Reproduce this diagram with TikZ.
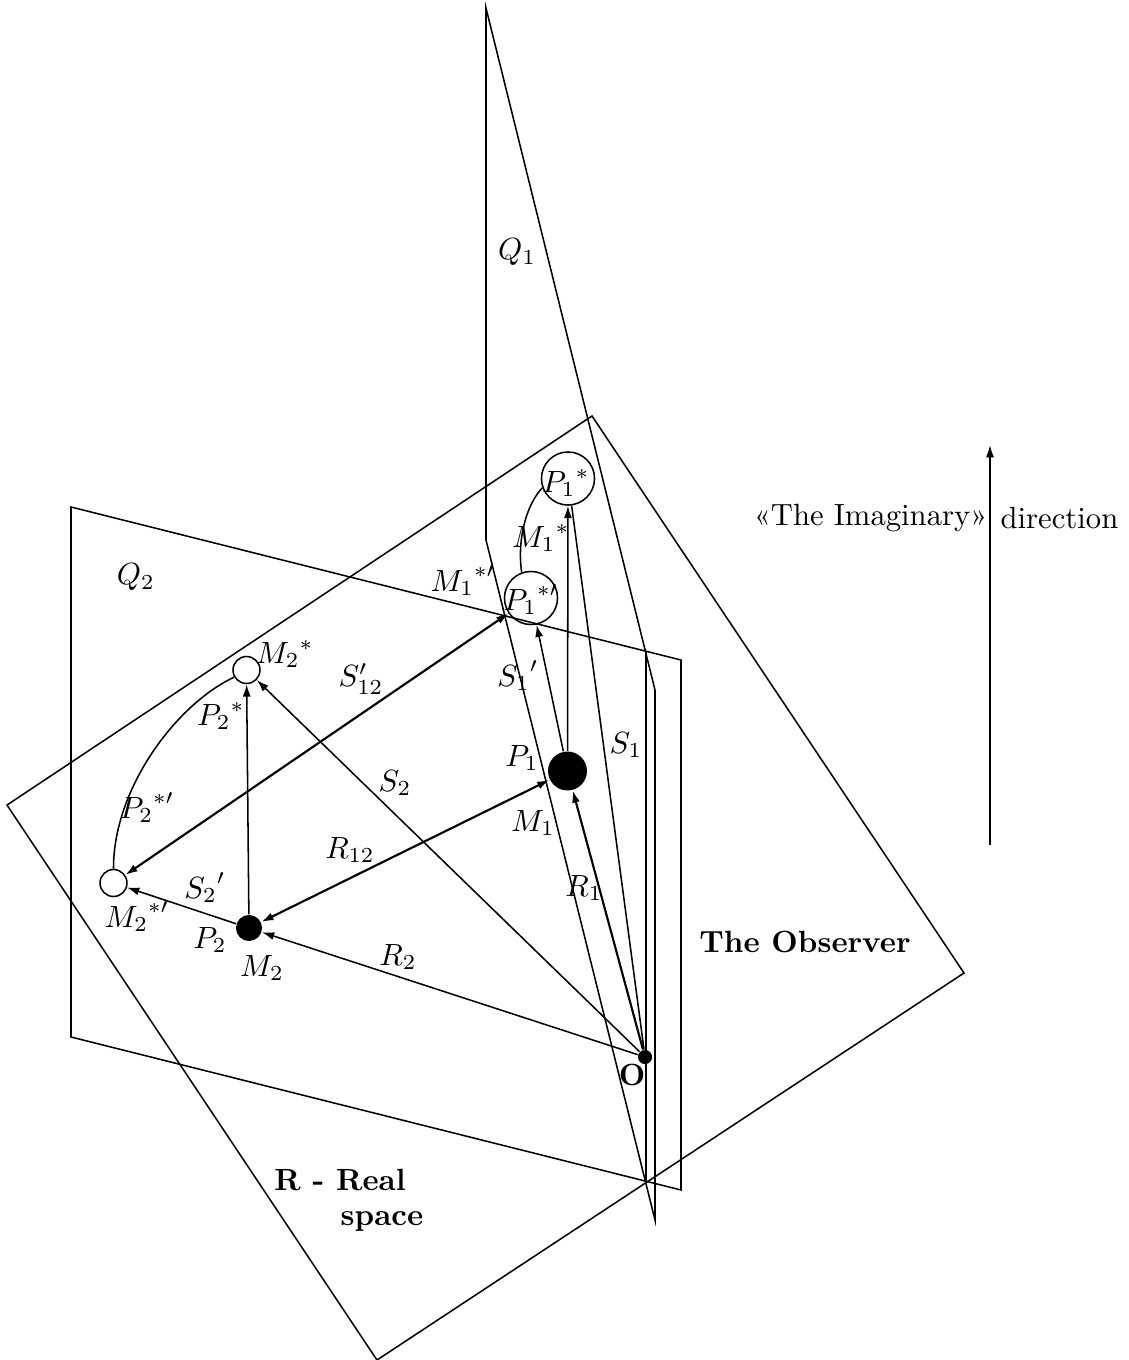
\documentclass[tikz,border=0pt]{standalone}
\usepackage{fontspec}
\usetikzlibrary{arrows.meta}
\begin{document}
\begin{tikzpicture}[x=0.326pt,y=-0.326pt,
  plane/.style={line width=0.5pt},
  vec/.style={line width=0.5pt,-{Latex[length=4pt,width=2.6pt]}},
  bivec/.style={line width=0.7pt,{Latex[length=4pt,width=2.6pt]}-{Latex[length=4pt,width=2.6pt]}},
  mass/.style={circle,fill=black,inner sep=0pt},
  image/.style={circle,draw,line width=0.5pt,inner sep=0pt},
  lbl/.style={inner sep=0pt}]
\useasboundingbox (0,0) rectangle (1128,1360);

% plane R (real space)
\draw[plane] (7,805) -- (592,416) -- (964,973) -- (377,1360) -- cycle;
% plane Q2
\draw[plane] (71,507) -- (681,660) -- (681,1190) -- (71,1037) -- cycle;
% plane Q1
\draw[plane] (486,8) -- (655,690) -- (655,1220) -- (486,540) -- cycle;
% trace of Q1 inside Q2
\coordinate (qt) at (646,651);
\coordinate (qb) at (646,1181);
\draw[plane] (qt) -- (qb);

% masses and their images
\node[mass,minimum size=4.6pt] (O) at (645,1057) {};
\node[mass,minimum size=12.7pt] (P1) at (567.5,771) {};
\node[mass,minimum size=8.5pt] (P2) at (249,928) {};
\node[image,minimum size=8.8pt] (M2s) at (246.5,670) {};
\node[image,minimum size=8.8pt] (M2sp) at (113.5,883) {};
\node[image,minimum size=17.3pt] (P1s) at (568,478.5) {};
\node[image,minimum size=17.3pt] (P1sp) at (531,598) {};

% radius vectors from the observer
\draw[vec] (O) -- (P2);
\draw[vec,line width=0.7pt] (O) -- (P1);
\draw[vec] (O) -- (M2s);
\draw[plane] (O) -- (P1s);

% mutual distances
\draw[bivec] (P1) -- (P2);
\draw[bivec] (P1sp) -- (M2sp);

% shifts towards the imaginary direction
\draw[vec] (P2) -- (M2sp);
\draw[vec] (P2) -- (M2s);
\draw[vec] (P1) -- (P1s);
\draw[vec] (P1) -- (P1sp);

% arcs between the images
\draw[plane] (M2s.210) .. controls (175,705) and (113,790) .. (M2sp.north);
\draw[plane] (P1s.200) .. controls (526,505) and (517,540) .. (P1sp.110);

% imaginary direction
\coordinate (ib) at (990,845);
\coordinate (it) at (990,445);
\draw[vec] (ib) -- (it);
\node[lbl,anchor=east] (timag) at (988,518) {«The Imaginary»};
\node[lbl,anchor=west] (tdir) at (1000,518) {direction};

% labels
\node[lbl] (lQ1) at (517,252) {$Q_1$};
\node[lbl] (lQ2) at (136,577) {$Q_2$};
\node[lbl] (lP1s) at (566,483) {${P_1}^*$};
\node[lbl] (lM1s) at (541,538) {${M_1}^*$};
\node[lbl] (lM1sp) at (463,581) {${M_1}^{*\prime}$};
\node[lbl] (lP1sp) at (531,600) {${P_1}^{*\prime}$};
\node[lbl] (lS12p) at (361,679) {$S'_{12}$};
\node[lbl] (lS1p) at (518,676) {${S_1}'$};
\node[lbl] (lP1) at (522,758) {$P_1$};
\node[lbl] (lM1) at (533,823) {$M_1$};
\node[lbl] (lS1) at (626,745) {$S_1$};
\node[lbl] (lR1) at (584,888) {$R_1$};
\node[lbl] (lS2) at (395,783) {$S_2$};
\node[lbl] (lR12) at (350,850) {$R_{12}$};
\node[lbl] (lR2) at (398,957) {$R_2$};
\node[lbl] (lM2s) at (285,654) {${M_2}^*$};
\node[lbl] (lP2s) at (221,716) {${P_2}^*$};
\node[lbl] (lP2sp) at (147,808) {${P_2}^{*\prime}$};
\node[lbl] (lS2p) at (205,888) {${S_2}'$};
\node[lbl] (lM2sp) at (137,917) {${M_2}^{*\prime}$};
\node[lbl] (lP2) at (210,940) {$P_2$};
\node[lbl] (lM2) at (262,968) {$M_2$};
\node[lbl] (lO) at (632,1075) {\textbf{O}};
\node[lbl] (lobs) at (805,942) {\textbf{The Observer}};
\node[lbl] (lreal) at (340,1180) {\textbf{R - Real}};
\node[lbl] (lspace) at (382,1222) {\textbf{space}};
\end{tikzpicture}
\end{document}
